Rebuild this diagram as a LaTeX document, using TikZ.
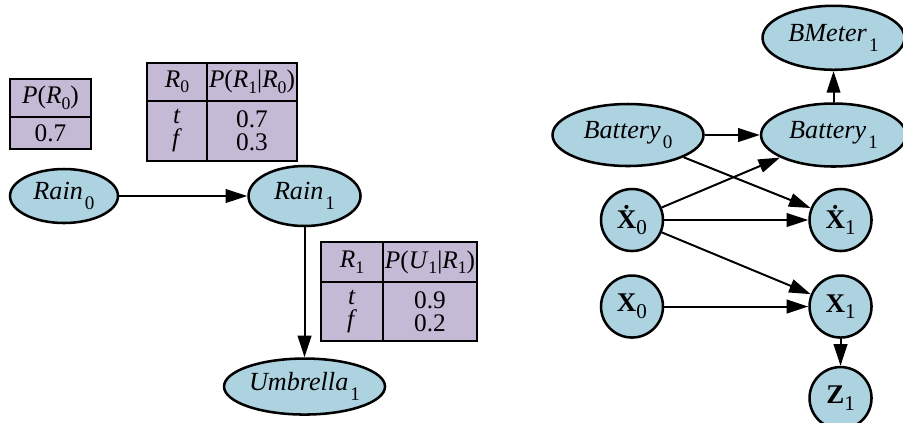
\documentclass[tikz,border=0pt]{standalone}
\usepackage{fontspec}
\setmainfont{Liberation Serif}
\usepackage{xcolor}
\usepackage{tikz}
\usetikzlibrary{positioning,shapes.geometric,arrows.meta}

\definecolor{nodeblue}{RGB}{173,210,224}
\definecolor{cptpurple}{RGB}{196,186,214}
\newcommand{\lsub}[1]{\hspace{0.08em}\raisebox{-0.37em}{\fontsize{6.8}{7}\selectfont #1}}
\newcommand{\tsub}[1]{\raisebox{-0.22em}{\fontsize{6.3}{7}\selectfont #1}}
\newcommand{\csub}[1]{\raisebox{-0.25em}{\fontsize{7.5}{8}\selectfont #1}}

\begin{document}
\begin{tikzpicture}[
  var/.style 2 args={ellipse, draw, fill=nodeblue, line width=0.9pt, inner sep=0pt,
              font=\fontsize{9.3}{11}\selectfont, minimum width=#1, minimum height=#2},
  vec/.style={circle, draw, fill=nodeblue, line width=0.9pt, inner sep=0pt,
              minimum size=0.775cm, font=\fontsize{9.6}{11}\selectfont},
  cell/.style 2 args={rectangle, draw, fill=cptpurple, line width=0.5pt, inner sep=0pt,
              outer sep=0pt, align=center, font=\fontsize{9}{8.2}\selectfont,
              minimum width=#1, minimum height=#2},
  arr/.style={-{Triangle[length=2.7mm,width=1.7mm]}, line width=0.7pt}
]
  \useasboundingbox (0,0) rectangle (11.2875,-5.275);

  % rain model
  \node[cell={1.0125cm}{0.475cm}] (pr0h) at (0.631,-1.225) {\textit{P}(\textit{R}\tsub{0})};
  \node[cell={1.0125cm}{0.4cm}, below=0pt of pr0h] (pr0b) {0.7};

  \node[cell={0.75cm}{0.475cm}] (r0h) at (2.2125,-1.025) {\textit{R}\tsub{0}};
  \node[cell={1.125cm}{0.475cm}, right=0pt of r0h] (p1h) {\textit{P}(\textit{R}\tsub{1}|\textit{R}\tsub{0})};
  \node[cell={0.75cm}{0.75cm}, below=0pt of r0h] (r0b) {\textit{t}\\\textit{f}};
  \node[cell={1.125cm}{0.75cm}, below=0pt of p1h] (p1b) {0.7\\0.3};

  \node[cell={0.775cm}{0.5cm}] (r1h) at (4.4,-3.275) {\textit{R}\tsub{1}};
  \node[cell={1.175cm}{0.5cm}, right=0pt of r1h] (u1h) {\textit{P}(\textit{U}\tsub{1}|\textit{R}\tsub{1})};
  \node[cell={0.775cm}{0.7375cm}, below=0pt of r1h] (r1b) {\textit{t}\\\textit{f}};
  \node[cell={1.175cm}{0.7375cm}, below=0pt of u1h] (u1b) {0.9\\0.2};

  \node[var={1.35cm}{0.675cm}] (rain0) at (0.8,-2.45) {\textit{Rain}\lsub{0}};
  \node[var={1.4cm}{0.75cm}, right=1.6cm of rain0] (rain1) {\textit{Rain}\lsub{1}};
  \node[var={2.0125cm}{0.7cm}, below=1.625cm of rain1] (umb1) {\textit{Umbrella}\lsub{1}};

  \draw[arr] (rain0) -- (rain1);
  \draw[arr] (rain1) -- (umb1);

  % battery model
  \node[var={1.8875cm}{0.775cm}] (bat0) at (7.85,-1.6875) {\textit{Battery}\lsub{0}};
  \node[var={1.8125cm}{0.7875cm}, right=0.6875cm of bat0] (bat1) {\textit{Battery}\lsub{1}};
  \node[var={1.775cm}{0.8cm}, above=0.39cm of bat1] (bmeter1) {\textit{BMeter}\lsub{1}};

  \node[vec] (xd0) at (7.9,-2.75) {\textbf{\.X}\csub{0}};
  \node[vec, right=1.8cm of xd0] (xd1) {\textbf{\.X}\csub{1}};
  \node[vec, below=0.275cm of xd0] (x0) {\textbf{X}\csub{0}};
  \node[vec, right=1.8cm of x0] (x1) {\textbf{X}\csub{1}};
  \node[vec, below=0.3375cm of x1] (z1) {\textbf{Z}\csub{1}};

  \draw[arr] (bat0) -- (bat1);
  \draw[arr] (bat1) -- (bmeter1);
  \draw[arr] (bat0) -- (xd1);
  \draw[arr] (xd0) -- (bat1);
  \draw[arr] (xd0) -- (xd1);
  \draw[arr] (xd0) -- (x1);
  \draw[arr] (x0) -- (x1);
  \draw[arr] (x1) -- (z1);
\end{tikzpicture}
\end{document}
